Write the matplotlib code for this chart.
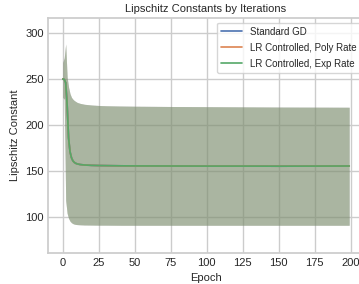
import matplotlib
matplotlib.use("Agg")
import matplotlib.pyplot as plt
import seaborn as sns

sns.set_theme(style="whitegrid")
plt.rcParams['font.family'] = ['Liberation Sans', 'DejaVu Sans']

epochs = [0, 1, 2, 3, 4, 5, 6, 7, 8, 9, 10, 12, 15, 20, 25, 30, 40, 50, 75, 100, 125, 150, 175, 199]
mean_vals = [250, 249.5, 246, 222, 186, 171, 164.5, 161, 159.3, 158.3, 157.7, 157, 156.5, 156.1, 155.9, 155.8,
             155.6, 155.5, 155.4, 155.3, 155.3, 155.2, 155.3, 155.4]
upper_vals = [268, 273, 288, 252, 241, 234, 230, 228, 226.5, 225.5, 224.5, 223.5, 222.5, 221.7, 221.2, 220.9,
              220.6, 220.4, 220.1, 219.9, 219.7, 219.5, 219.4, 219.3]
lower_vals = [230, 228, 118, 104, 98.5, 95.5, 93.8, 92.8, 92.2, 91.9, 91.7, 91.5, 91.3, 91.2, 91.1, 91.1,
              91.0, 91.0, 91.0, 91.0, 91.0, 91.0, 91.0, 91.0]

series_names = ["Standard GD", "LR Controlled, Poly Rate", "LR Controlled, Exp Rate"]
colors = sns.color_palette("deep")[:3]

fig = plt.figure(figsize=(3.59, 2.84), dpi=100)
ax = fig.add_axes([48.5 / 359, 30.7 / 284, 315 / 359, 235.3 / 284])

for name, c in zip(series_names, colors):
    ax.plot(epochs, mean_vals, color=c, label=name, linewidth=1.2)
    ax.fill_between(epochs, lower_vals, upper_vals, color=c, alpha=0.3, linewidth=0)

ax.set_xlim(-9.95, 208.95)
ax.set_ylim(60.5, 316.3)
ax.set_xticks([0, 25, 50, 75, 100, 125, 150, 175, 200])
ax.set_yticks([100, 150, 200, 250, 300])
ax.tick_params(axis='x', labelsize=8, pad=3.5, length=0, labelcolor='#262626')
ax.tick_params(axis='y', labelsize=8, pad=3.5, length=0, labelcolor='#262626')
ax.set_xlabel("Epoch", fontsize=8, labelpad=3.5, color='#262626')
ax.set_ylabel("Lipschitz Constant", fontsize=8, labelpad=4, color='#262626')
ax.set_title("Lipschitz Constants by Iterations", fontsize=8, pad=4, color='#262626')
leg = ax.legend(loc="upper left", bbox_to_anchor=((216.7 - 48.5) / 315, 1 - 4.5 / 235.3),
                fontsize=7, borderaxespad=0, handlelength=2.2, labelspacing=0.6, borderpad=0.45)
for t in leg.get_texts():
    t.set_color('#262626')

fig.savefig("out.png", dpi=100)
